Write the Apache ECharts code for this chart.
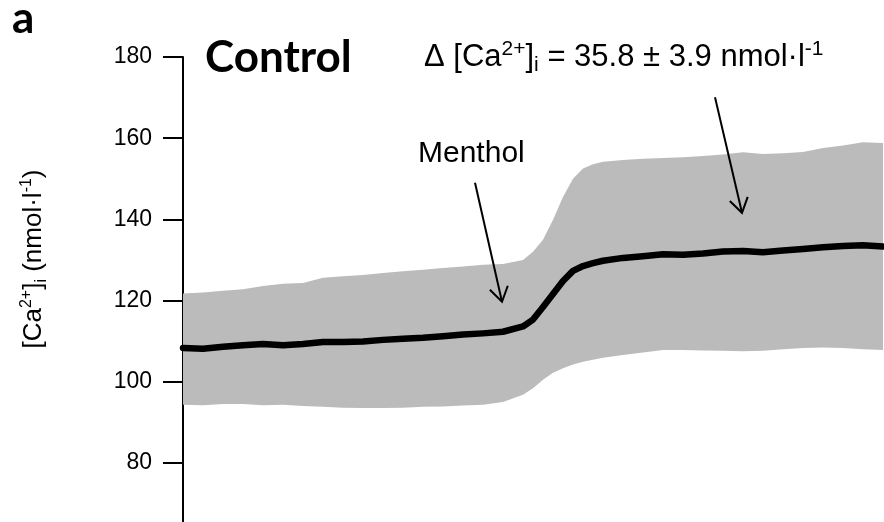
<!DOCTYPE html>
<html>
<head>
<meta charset="utf-8">
<script src="https://cdn.jsdelivr.net/npm/echarts@6/dist/echarts.min.js"></script>
<style>
  html, body { margin: 0; padding: 0; background: #ffffff; }
  #chart { width: 884px; height: 522px; }
</style>
</head>
<body>
<div id="chart"></div>
<script>
// Recording time (s) of each averaged sample
const timePoints = [
  0, 20, 40, 60, 80, 100, 120, 140, 160, 180, 200, 220, 240, 260, 280, 300, 320, 340,
  350, 360, 370, 380, 390, 400, 410, 420,
  440, 460, 480, 500, 520, 540, 560, 580, 600, 620, 640, 660, 680, 700
];
// Mean intracellular calcium, nmol/l
const meanCa = [
  108.3, 108.1, 108.6, 109.0, 109.3, 109.0, 109.3, 109.8, 109.8, 109.9, 110.3, 110.6, 110.8, 111.2, 111.6, 111.9, 112.3, 113.6,
  115.3, 118.4, 121.6, 124.8, 127.3, 128.5, 129.2, 129.8,
  130.5, 130.9, 131.4, 131.3, 131.6, 132.1, 132.2, 131.9, 132.3, 132.7, 133.1, 133.4, 133.6, 133.3
];
// Upper edge of the spread (mean + SD)
const upperCa = [
  121.7, 122.0, 122.4, 122.8, 123.6, 124.1, 124.3, 125.6, 126.0, 126.3, 126.8, 127.2, 127.6, 128.0, 128.4, 128.8, 129.0, 130.0,
  132.0, 135.0, 139.9, 145.5, 150.0, 152.5, 153.6, 154.2,
  154.6, 154.9, 155.1, 155.3, 155.6, 156.0, 156.5, 156.1, 156.3, 156.6, 157.6, 158.2, 159.0, 158.8
];
// Lower edge of the spread (mean - SD)
const lowerCa = [
  94.3, 94.2, 94.5, 94.5, 94.2, 94.3, 94.0, 93.8, 93.6, 93.5, 93.5, 93.6, 93.8, 93.9, 94.1, 94.3, 95.0, 96.8,
  98.4, 100.5, 102.2, 103.3, 104.2, 104.9, 105.4, 105.9,
  106.6, 107.2, 107.8, 107.8, 107.7, 107.6, 107.5, 107.6, 108.0, 108.3, 108.4, 108.3, 108.0, 107.8
];
// Y axis ticks
const yMin = 60, yMax = 180, yStep = 20;

const panelLetter = 'a';
const panelTitle = 'Control';
const stimulusLabel = 'Menthol';
const deltaLabel = '\u0394 [Ca{sup|2+}]{sub|i} = 35.8 \u00b1 3.9 nmol\u00b7l{sup|-1}';
const yAxisLabel = '[Ca{sup|2+}]{sub|i} (nmol\u00b7l{sup|-1})';

// Arrow anchors in data space: [time, value] of tail and tip
const stimulusArrow = { tail: [292, 149.0], tip: [319, 119.7] };
const deltaArrow = { tail: [532, 170.1], tip: [559, 141.6] };

const sansFont = '"Liberation Sans", Arial, sans-serif';
const boldFont = 'Lato, "Open Sans", sans-serif';

const pair = (arr) => arr.map((v, i) => [timePoints[i], v]);
const bandData = timePoints.map((t, i) => [t, upperCa[i], lowerCa[i]]);

const richSmall = (size, ratio) => ({
  sup: { fontSize: Math.round(size * ratio), fontFamily: sansFont, fill: '#000', verticalAlign: 'top', lineHeight: Math.round(size * ratio) },
  sub: { fontSize: Math.round(size * ratio), fontFamily: sansFont, fill: '#000', verticalAlign: 'bottom', lineHeight: Math.round(size * ratio) }
});

// SD band: one closed polygon, upper edge forward then lower edge back
function renderBand(params, api) {
  if (params.dataIndex !== 0) return null;
  const pts = [];
  for (let i = 0; i < bandData.length; i++) pts.push(api.coord([bandData[i][0], bandData[i][1]]));
  for (let i = bandData.length - 1; i >= 0; i--) pts.push(api.coord([bandData[i][0], bandData[i][2]]));
  return { type: 'polygon', shape: { points: pts }, style: { fill: '#bbbbbb', stroke: null } };
}

const chart = echarts.init(document.getElementById('chart'), null, { renderer: 'canvas' });

chart.setOption({
  animation: false,
  backgroundColor: '#ffffff',
  // the axis runs on below the bottom edge, so the grid is allowed past the canvas
  grid: { left: 183, right: 1, top: 57, height: 487, containLabel: false, outerBoundsMode: 'none' },
  xAxis: {
    type: 'value', min: 0, max: 700, show: false
  },
  yAxis: {
    type: 'value', min: yMin, max: yMax, interval: yStep,
    axisLine: { show: true, lineStyle: { color: '#000', width: 2 } },
    axisTick: { show: true, inside: false, length: 20, lineStyle: { color: '#000', width: 2 } },
    axisLabel: { color: '#000', fontFamily: sansFont, fontSize: 23, margin: 31 },
    splitLine: { show: false }
  },
  series: [
    {
      name: 'sd', type: 'custom', data: bandData, renderItem: renderBand,
      encode: { x: 0, y: [1, 2] }, silent: true, z: 1
    },
    {
      name: 'mean', type: 'line', data: pair(meanCa),
      symbol: 'none', lineStyle: { color: '#000', width: 6.5, join: 'round', cap: 'round' },
      z: 5, silent: true
    }
  ]
});

function arrowGraphics(id, a) {
  const p0 = chart.convertToPixel({ gridIndex: 0 }, a.tail);
  const p1 = chart.convertToPixel({ gridIndex: 0 }, a.tip);
  const ang = Math.atan2(p1[1] - p0[1], p1[0] - p0[0]);
  const len = 17, spreadAng = Math.PI / 5.5;
  const b1 = [p1[0] - len * Math.cos(ang - spreadAng), p1[1] - len * Math.sin(ang - spreadAng)];
  const b2 = [p1[0] - len * Math.cos(ang + spreadAng), p1[1] - len * Math.sin(ang + spreadAng)];
  return [
    { type: 'line', id: id + '-shaft', z: 10, shape: { x1: p0[0], y1: p0[1], x2: p1[0], y2: p1[1] },
      style: { stroke: '#000', lineWidth: 2 } },
    { type: 'polyline', id: id + '-head', z: 10, shape: { points: [b1, p1, b2] },
      style: { stroke: '#000', lineWidth: 2, fill: null } }
  ];
}

chart.setOption({
  graphic: [
    { type: 'text', id: 'letter', x: 12, y: 19, z: 10,
      style: { text: panelLetter, font: 'bold 44px ' + boldFont, fill: '#000', verticalAlign: 'middle' } },
    { type: 'text', id: 'title', x: 205, y: 58, z: 10,
      style: { text: panelTitle, font: 'bold 44px ' + boldFont, fill: '#000', verticalAlign: 'middle' } },
    { type: 'text', id: 'stim', x: 418, y: 154, z: 10,
      style: { text: stimulusLabel, fontFamily: sansFont, fontSize: 30, fill: '#000', verticalAlign: 'middle' } },
    { type: 'text', id: 'delta', x: 424, y: 57, z: 10,
      style: { text: deltaLabel, fontFamily: sansFont, fontSize: 31, lineHeight: 37, fill: '#000', verticalAlign: 'middle',
               rich: richSmall(31, 0.67) } },
    { type: 'text', id: 'ylabel', x: 34, y: 259, rotation: Math.PI / 2, z: 10,
      style: { text: yAxisLabel, fontFamily: sansFont, fontSize: 26, lineHeight: 31, fill: '#000',
               align: 'center', verticalAlign: 'middle', rich: richSmall(26, 0.62) } },
    ...arrowGraphics('arrowStim', stimulusArrow),
    ...arrowGraphics('arrowDelta', deltaArrow)
  ]
});
</script>
</body>
</html>
